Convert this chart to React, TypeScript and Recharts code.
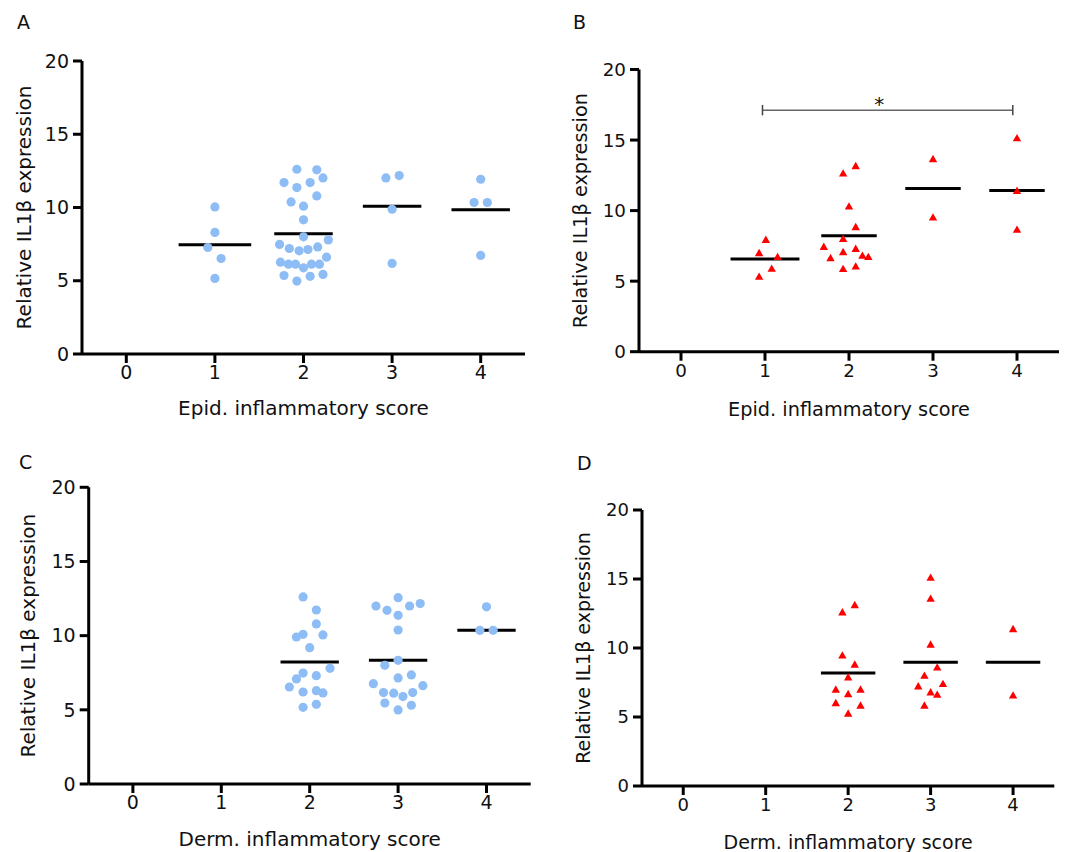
import React from "react";
import { ScatterChart, Scatter, XAxis, YAxis, ReferenceLine } from "recharts";

type Pt = { x: number; y: number };

const scoreTicks = [0, 1, 2, 3, 4];
const exprTicks = [0, 5, 10, 15, 20];

// A: epidermal score, circles (x = score + jitter as drawn)
const epidCircles: Pt[] = [
  { x: 1.0, y: 10.04 }, { x: 1.0, y: 8.3 }, { x: 0.92, y: 7.27 }, { x: 1.07, y: 6.52 }, { x: 1.0, y: 5.16 },
  { x: 1.925, y: 12.61 }, { x: 2.15, y: 12.57 }, { x: 1.78, y: 11.7 }, { x: 2.22, y: 12.02 },
  { x: 1.925, y: 11.36 }, { x: 2.075, y: 11.7 }, { x: 2.15, y: 10.79 }, { x: 1.86, y: 10.38 },
  { x: 2.0, y: 10.09 }, { x: 2.0, y: 9.16 }, { x: 2.0, y: 8.0 }, { x: 2.28, y: 7.79 },
  { x: 1.73, y: 7.48 }, { x: 1.84, y: 7.2 }, { x: 1.95, y: 7.04 }, { x: 2.05, y: 7.13 },
  { x: 2.16, y: 7.31 }, { x: 2.26, y: 6.61 }, { x: 1.74, y: 6.27 }, { x: 1.83, y: 6.13 },
  { x: 1.91, y: 6.13 }, { x: 2.0, y: 5.88 }, { x: 2.09, y: 6.13 }, { x: 2.18, y: 6.13 },
  { x: 1.78, y: 5.36 }, { x: 1.925, y: 4.98 }, { x: 2.075, y: 5.3 }, { x: 2.22, y: 5.43 },
  { x: 2.93, y: 12.02 }, { x: 3.08, y: 12.18 }, { x: 3.0, y: 9.88 }, { x: 3.0, y: 6.18 },
  { x: 4.0, y: 11.93 }, { x: 3.925, y: 10.34 }, { x: 4.075, y: 10.34 }, { x: 4.0, y: 6.73 },
];
const epidCircleScores = [1, 2, 3, 4];
const epidCircleMeans = [7.45, 8.2, 10.09, 9.84];

// B: epidermal score, triangles
const epidTriangles: Pt[] = [
  { x: 1.01, y: 7.91 }, { x: 0.93, y: 6.97 }, { x: 1.15, y: 6.69 }, { x: 1.08, y: 5.86 }, { x: 0.93, y: 5.29 },
  { x: 1.93, y: 12.61 }, { x: 2.08, y: 13.13 }, { x: 2.0, y: 10.27 }, { x: 2.08, y: 8.81 },
  { x: 1.93, y: 7.98 }, { x: 1.7, y: 7.41 }, { x: 1.93, y: 7.04 }, { x: 2.08, y: 7.27 },
  { x: 1.78, y: 6.61 }, { x: 2.16, y: 6.78 }, { x: 2.23, y: 6.69 }, { x: 1.93, y: 5.84 }, { x: 2.08, y: 6.02 },
  { x: 3.0, y: 13.63 }, { x: 3.0, y: 9.49 },
  { x: 4.0, y: 15.11 }, { x: 4.0, y: 11.38 }, { x: 4.0, y: 8.62 },
];
const epidTriangleScores = [1, 2, 3, 4];
const epidTriangleMeans = [6.57, 8.22, 11.57, 11.42];
const sigBracket = { from: 0.97, to: 3.95, at: 17.12, star: 2.36 };

// C: dermal score, circles
const dermCircles: Pt[] = [
  { x: 1.925, y: 12.61 }, { x: 2.075, y: 11.73 }, { x: 2.075, y: 10.79 }, { x: 1.85, y: 9.91 },
  { x: 1.925, y: 10.09 }, { x: 2.15, y: 10.05 }, { x: 2.0, y: 9.19 }, { x: 2.23, y: 7.8 },
  { x: 1.925, y: 7.48 }, { x: 1.85, y: 7.08 }, { x: 2.075, y: 7.3 }, { x: 1.77, y: 6.54 },
  { x: 1.925, y: 6.2 }, { x: 2.075, y: 6.29 }, { x: 2.15, y: 6.14 }, { x: 1.925, y: 5.17 }, { x: 2.075, y: 5.37 },
  { x: 3.0, y: 12.56 }, { x: 2.75, y: 12.0 }, { x: 2.875, y: 11.71 }, { x: 3.13, y: 12.0 },
  { x: 3.25, y: 12.16 }, { x: 3.0, y: 11.37 }, { x: 3.0, y: 10.38 }, { x: 3.0, y: 8.34 },
  { x: 2.85, y: 8.0 }, { x: 3.0, y: 7.15 }, { x: 3.15, y: 7.35 }, { x: 2.72, y: 6.76 },
  { x: 3.28, y: 6.63 }, { x: 2.835, y: 6.16 }, { x: 2.95, y: 6.12 }, { x: 3.055, y: 5.89 },
  { x: 3.165, y: 6.16 }, { x: 2.85, y: 5.46 }, { x: 3.0, y: 4.99 }, { x: 3.15, y: 5.31 },
  { x: 4.0, y: 11.94 }, { x: 3.925, y: 10.36 }, { x: 4.075, y: 10.36 },
];
const dermCircleScores = [2, 3, 4];
const dermCircleMeans = [8.23, 8.34, 10.36];

// D: dermal score, triangles
const dermTriangles: Pt[] = [
  { x: 1.93, y: 12.56 }, { x: 2.08, y: 13.09 }, { x: 1.93, y: 9.44 }, { x: 2.08, y: 8.77 },
  { x: 2.0, y: 7.85 }, { x: 1.85, y: 6.96 }, { x: 2.15, y: 6.96 }, { x: 2.0, y: 6.64 },
  { x: 1.85, y: 5.99 }, { x: 2.15, y: 5.8 }, { x: 2.0, y: 5.22 },
  { x: 3.0, y: 15.07 }, { x: 3.0, y: 13.55 }, { x: 3.0, y: 10.22 }, { x: 3.08, y: 8.57 },
  { x: 2.925, y: 7.97 }, { x: 3.15, y: 7.37 }, { x: 2.85, y: 7.2 }, { x: 3.0, y: 6.76 },
  { x: 3.08, y: 6.59 }, { x: 2.925, y: 5.8 },
  { x: 4.0, y: 11.35 }, { x: 4.0, y: 6.54 },
];
const dermTriangleScores = [2, 3, 4];
const dermTriangleMeans = [8.19, 8.96, 8.96];

// half length of the mean bar, by score (score 1 bars are drawn wider)
const meanHalf = [0.33, 0.41, 0.33, 0.33, 0.33];

const W = 1065;
const H = 852;
const FONT = "'DejaVu Sans', Verdana, sans-serif";
const BLUE = "#8ebdf6";
const RED = "#ff0000";

function AxisTitle({ px, py, size, text, vertical }: any) {
  return (
    <text
      x={px}
      y={py}
      textAnchor="middle"
      fontSize={size}
      fontFamily={FONT}
      fill="#111"
      transform={vertical ? `rotate(-90, ${px}, ${py})` : undefined}
    >
      {text}
    </text>
  );
}

const circleShape = (p: any) => <circle cx={p.cx} cy={p.cy} r={4.6} fill={BLUE} />;
const triangleShape = (p: any) => (
  <polygon
    points={`${p.cx},${p.cy - 4.6} ${p.cx - 4.2},${p.cy + 2.8} ${p.cx + 4.2},${p.cy + 2.8}`}
    fill={RED}
  />
);
const starShape = (p: any) => (
  <text x={p.cx} y={p.cy + 1} textAnchor="middle" fontSize={20} fontFamily={FONT} fill="#111">
    *
  </text>
);

function Panel({ box, font, xTitle, xTitleY, yTitleX, points, scores, means, shape, bracket }: any) {
  const yw = 60;
  const xh = 40;
  const margin = { top: box.top, left: box.left - yw, right: W - box.right, bottom: H - box.bottom - xh };
  const midX = (box.left + box.right) / 2;
  const midY = (box.top + box.bottom) / 2;
  const tickStyle = { fill: "#111", fontSize: font - 1, fontFamily: FONT };
  return (
    <div style={{ position: "absolute", left: 0, top: 0 }}>
      <ScatterChart width={W} height={H} margin={margin}>
        <XAxis
          type="number"
          dataKey="x"
          domain={[-0.5, 4.5]}
          ticks={scoreTicks}
          allowDataOverflow
          height={xh}
          axisLine={{ stroke: "#000", strokeWidth: 3 }}
          tickLine={{ stroke: "#000", strokeWidth: 3 }}
          tickSize={9}
          tickMargin={3}
          tick={tickStyle}
          label={<AxisTitle px={midX} py={xTitleY} size={font} text={xTitle} />}
        />
        <YAxis
          type="number"
          dataKey="y"
          domain={[0, 20]}
          ticks={exprTicks}
          allowDataOverflow
          width={yw}
          axisLine={{ stroke: "#000", strokeWidth: 3 }}
          tickLine={{ stroke: "#000", strokeWidth: 3 }}
          tickSize={9}
          tickMargin={4}
          tick={tickStyle}
          label={
            <AxisTitle px={yTitleX} py={midY} size={font} text="Relative IL1β expression" vertical />
          }
        />
        <Scatter data={points} shape={shape} isAnimationActive={false} />
        {means.map((m: number, i: number) => {
          const s = scores[i];
          const h = meanHalf[s];
          return (
            <ReferenceLine
              key={i}
              segment={[
                { x: s - h, y: m },
                { x: s + h, y: m },
              ]}
              stroke="#000"
              strokeWidth={3}
            />
          );
        })}
        {bracket && (
          <ReferenceLine
            segment={[
              { x: bracket.from, y: bracket.at },
              { x: bracket.to, y: bracket.at },
            ]}
            stroke="#666"
            strokeWidth={1.5}
          />
        )}
        {bracket &&
          [bracket.from, bracket.to].map((bx: number) => (
            <ReferenceLine
              key={bx}
              segment={[
                { x: bx, y: bracket.at - 0.37 },
                { x: bx, y: bracket.at + 0.37 },
              ]}
              stroke="#444"
              strokeWidth={1.5}
            />
          ))}
        {bracket && (
          <Scatter data={[{ x: bracket.star, y: bracket.at }]} shape={starShape} isAnimationActive={false} />
        )}
      </ScatterChart>
    </div>
  );
}

export default function App() {
  return (
    <div style={{ position: "absolute", left: 0, top: 0, width: W, height: H, background: "#fff" }}>
      <Panel
        box={{ left: 82, right: 525, top: 61, bottom: 354 }}
        font={20}
        xTitle="Epid. inflammatory score"
        xTitleY={414.5}
        yTitleX={30.6}
        points={epidCircles}
        scores={epidCircleScores}
        means={epidCircleMeans}
        shape={circleShape}
      />
      <Panel
        box={{ left: 639, right: 1059, top: 69.5, bottom: 351.7 }}
        font={19.3}
        xTitle="Epid. inflammatory score"
        xTitleY={415.5}
        yTitleX={587.4}
        points={epidTriangles}
        scores={epidTriangleScores}
        means={epidTriangleMeans}
        shape={triangleShape}
        bracket={sigBracket}
      />
      <Panel
        box={{ left: 88.7, right: 530.7, top: 487.3, bottom: 784 }}
        font={20}
        xTitle="Derm. inflammatory score"
        xTitleY={846}
        yTitleX={35.3}
        points={dermCircles}
        scores={dermCircleScores}
        means={dermCircleMeans}
        shape={circleShape}
      />
      <Panel
        box={{ left: 642, right: 1054.3, top: 510, bottom: 786 }}
        font={19}
        xTitle="Derm. inflammatory score"
        xTitleY={849}
        yTitleX={589.9}
        points={dermTriangles}
        scores={dermTriangleScores}
        means={dermTriangleMeans}
        shape={triangleShape}
      />
      <svg width={W} height={H} style={{ position: "absolute", left: 0, top: 0, pointerEvents: "none" }}>
        <g fontFamily={FONT} fontSize={19} fill="#111">
          <text x={17} y={29}>A</text>
          <text x={573} y={29}>B</text>
          <text x={19} y={469}>C</text>
          <text x={577} y={470}>D</text>
        </g>
      </svg>
    </div>
  );
}
